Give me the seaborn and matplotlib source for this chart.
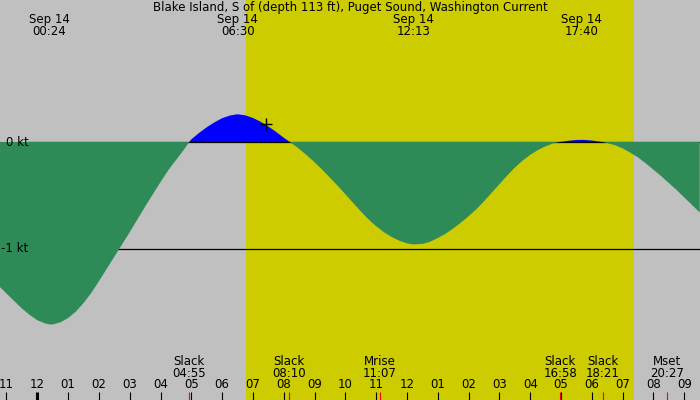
import matplotlib
matplotlib.use("Agg")
import matplotlib.pyplot as plt
import seaborn as sns
import numpy as np
import pandas as pd

# ---- data (hours after Sep 14 00:00, knots) ----
hours = [-1.21, -1.0, -0.75, -0.5, -0.25, 0.0, 0.25, 0.4, 0.5, 0.75, 1.0, 1.25, 1.5,
         1.75, 2.0, 2.25, 2.5, 2.75, 3.0, 3.25, 3.5, 3.75, 4.0, 4.25, 4.5, 4.75,
         4.93, 5.0, 5.25, 5.5, 5.75, 6.0, 6.25, 6.5, 6.75, 7.0, 7.25, 7.5, 7.75, 8.0,
         8.2, 8.5, 8.75, 9.0, 9.25, 9.5, 9.75, 10.0, 10.25, 10.5, 10.75, 11.0, 11.25,
         11.5, 11.75, 12.0, 12.22, 12.5, 12.75, 13.0, 13.25, 13.5, 13.75, 14.0,
         14.25, 14.5, 14.75, 15.0, 15.25, 15.5, 15.75, 16.0, 16.25, 16.5, 16.75,
         16.95, 17.0, 17.25, 17.5, 17.67, 17.75, 18.0, 18.25, 18.35, 18.5, 18.75,
         19.0, 19.25, 19.5, 19.75, 20.0, 20.25, 20.5, 20.75, 21.0, 21.25, 21.5]
speed = [-1.36, -1.42, -1.49, -1.56, -1.62, -1.67, -1.70, -1.71, -1.71, -1.69, -1.65,
         -1.59, -1.51, -1.415, -1.305, -1.19, -1.075, -0.96, -0.845, -0.725, -0.605,
         -0.49, -0.375, -0.265, -0.17, -0.075, 0.0, 0.025, 0.085, 0.138, 0.184,
         0.223, 0.248, 0.26, 0.25, 0.225, 0.19, 0.145, 0.095, 0.04, 0.0, -0.065,
         -0.125, -0.19, -0.26, -0.335, -0.41, -0.49, -0.57, -0.65, -0.725, -0.79,
         -0.845, -0.89, -0.925, -0.95, -0.96, -0.955, -0.935, -0.90, -0.86, -0.81,
         -0.755, -0.695, -0.63, -0.555, -0.475, -0.395, -0.315, -0.24, -0.175,
         -0.12, -0.075, -0.04, -0.012, 0.0, 0.002, 0.012, 0.019, 0.02, 0.02, 0.014,
         0.004, 0.0, -0.01, -0.03, -0.06, -0.10, -0.145, -0.20, -0.26, -0.32,
         -0.385, -0.45, -0.52, -0.59, -0.66]

title = "Blake Island, S of (depth 113 ft), Puget Sound, Washington Current"
peak_dates = ["Sep 14", "Sep 14", "Sep 14", "Sep 14"]
peak_labels = ["00:24", "06:30", "12:13", "17:40"]
peak_hours = [0.40, 6.50, 12.22, 17.67]

event_names = ["Slack", "Slack", "Mrise", "Slack", "Slack", "Mset"]
event_labels = ["04:55", "08:10", "11:07", "16:58", "18:21", "20:27"]
event_hours = [4.917, 8.167, 11.117, 16.967, 18.35, 20.45]

tick_hours = list(range(-1, 22))
tick_labels = ["11", "12", "01", "02", "03", "04", "05", "06", "07", "08", "09",
               "10", "11", "12", "01", "02", "03", "04", "05", "06", "07", "08", "09"]

sunrise, sunset = 6.77, 19.36
now_hour, now_speed = 7.42, 0.168
ylevels = [0, -1]
ylevel_labels = ["0 kt", "-1 kt"]

# ---- figure ----
sns.set_theme(style="white")
plt.rcParams['font.family'] = ['DejaVu Sans']
plt.rcParams['text.color'] = 'black'
W, H = 700, 400
fig = plt.figure(figsize=(7, 4), dpi=100)
ax = fig.add_axes([0, 0, 1, 1])
px_per_h = 30.81
x0 = 37.3
ax.set_xlim(-x0 / px_per_h, (W - x0) / px_per_h)
ax.set_ylim(-(H - 142) / 106.7, 142 / 106.7)
ax.set_facecolor("#c0c0c0")
for s in ax.spines.values():
    s.set_visible(False)
ax.set_xticks([]); ax.set_yticks([])

ax.axvspan(sunrise, sunset, color="#cccc00", lw=0, zorder=0)

df = pd.DataFrame({"h": hours, "v": speed})
t = df["h"].to_numpy(); v = df["v"].to_numpy()
ax.fill_between(t, 0, v, where=v >= 0, interpolate=True, color="#0000ff", lw=0, zorder=1)

yfrac = lambda ypix: 1 - ypix / H
trans = ax.get_xaxis_transform()

x_line_start = 28.5 / px_per_h - x0 / px_per_h
for lv, lab in zip(ylevels, ylevel_labels):
    ax.hlines(lv, x_line_start, ax.get_xlim()[1], color="black", lw=0.9, zorder=2)
    ax.text(x_line_start, lv, lab, ha="right", va="center", fontsize=8.5,
            color="black", zorder=5)

ax.fill_between(t, 0, v, where=v <= 0, interpolate=True, color="#2e8b57", lw=0, zorder=3)

sns.scatterplot(x=[now_hour], y=[now_speed], marker="+", s=70, color="black",
                linewidth=1.0, ax=ax, zorder=6, legend=False)

ax.text(0.5, yfrac(7.5), title, transform=ax.transAxes, ha="center", va="center",
        fontsize=8.5, color="black")
for d, lab, hh in zip(peak_dates, peak_labels, peak_hours):
    ax.text(hh, yfrac(19.5), d, transform=trans, ha="center", va="center", fontsize=8.5)
    ax.text(hh, yfrac(31.5), lab, transform=trans, ha="center", va="center", fontsize=8.5)

for name, lab, hh in zip(event_names, event_labels, event_hours):
    ax.text(hh, yfrac(361.5), name, transform=trans, ha="center", va="center", fontsize=8.5)
    ax.text(hh, yfrac(373.5), lab, transform=trans, ha="center", va="center", fontsize=8.5)
    ax.vlines(hh, yfrac(392), yfrac(400), transform=trans, color="red", lw=0.8, zorder=4)

for hh, lab in zip(tick_hours, tick_labels):
    lw = 2.2 if hh == 0 else 0.8
    ax.vlines(hh, yfrac(392), yfrac(400), transform=trans, color="black", lw=lw, zorder=4)
    ax.text(hh, yfrac(385), lab, transform=trans, ha="center", va="center", fontsize=8.5)

fig.savefig("out.png", dpi=100)
